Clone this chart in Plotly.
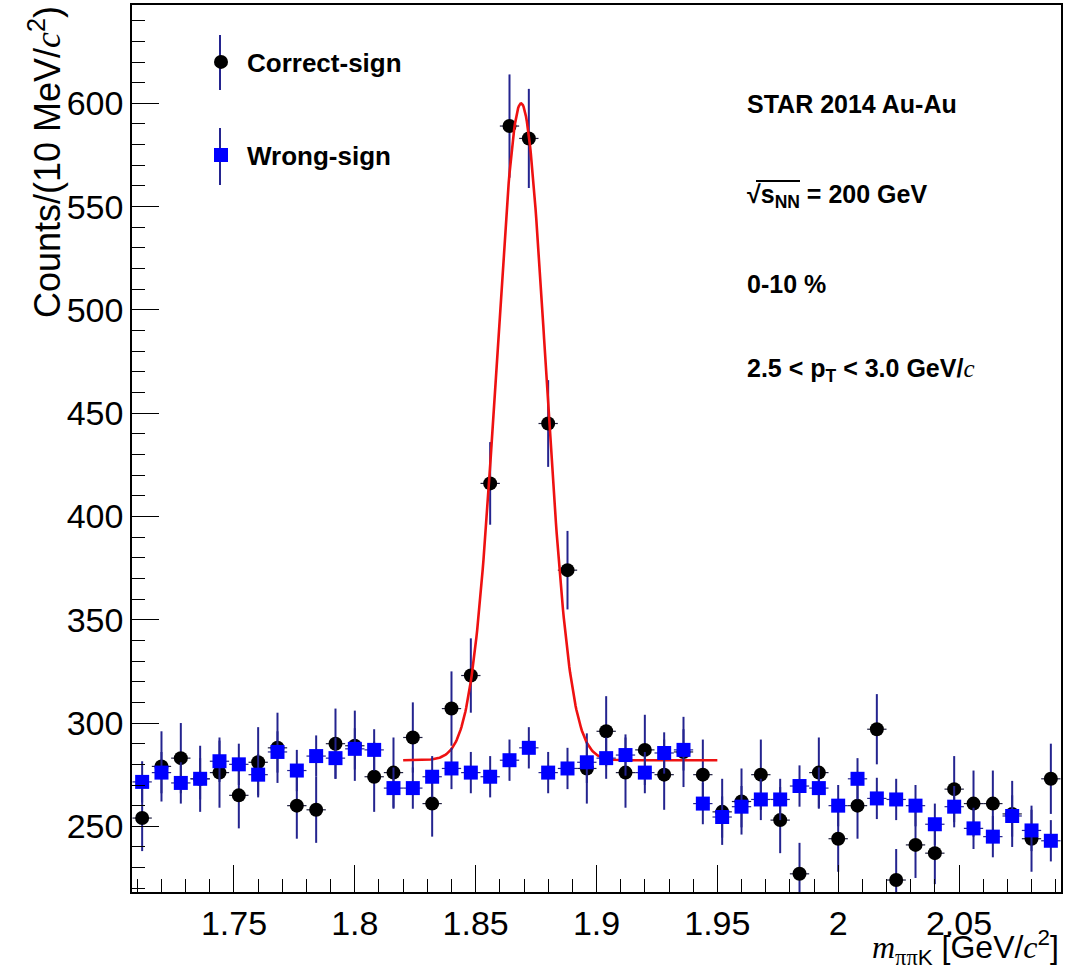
import numpy as np
import plotly.graph_objects as go

# Invariant-mass bin centres (GeV/c^2)
mass_bins = [1.712, 1.720, 1.728, 1.736, 1.744, 1.752, 1.760, 1.768, 1.776, 1.784,
             1.792, 1.800, 1.808, 1.816, 1.824, 1.832, 1.840, 1.848, 1.856, 1.864,
             1.872, 1.880, 1.888, 1.896, 1.904, 1.912, 1.920, 1.928, 1.936, 1.944,
             1.952, 1.960, 1.968, 1.976, 1.984, 1.992, 2.000, 2.008, 2.016, 2.024,
             2.032, 2.040, 2.048, 2.056, 2.064, 2.072, 2.080, 2.088]

# Correct-sign pi-pi-K pairs
correct_sign = [254, 279, 283, 273, 276, 265, 281, 288, 260, 258,
                290, 289, 274, 276, 293, 261, 307, 323, 416, 589,
                583, 445, 374, 278, 296, 276, 287, 275, 286, 275,
                257, 262, 275, 253, 227, 276, 244, 260, 297, 224,
                241, 237, 268, 261, 261, 256, 244, 273]
correct_sign_err = [16, 17, 17, 16, 17, 16, 17, 17, 16, 16,
                    17, 17, 17, 17, 17, 16, 18, 18, 20, 25,
                    24, 21, 19, 17, 17, 17, 17, 17, 17, 17,
                    16, 16, 17, 16, 15, 17, 16, 16, 17, 15,
                    16, 15, 16, 16, 16, 16, 16, 17]

# Wrong-sign combinatorial background
wrong_sign = [271.5, 276, 271, 273, 281.5, 280, 275, 286, 277, 284,
              283, 287.5, 287, 268.5, 268.5, 274, 278, 276, 274, 282,
              288, 276, 278, 281, 283, 284.5, 276, 285.5, 287, 261,
              254.5, 259.5, 263, 263, 269.5, 268.5, 260, 273, 263.5, 263,
              260, 251, 259.5, 249, 245, 255, 248, 243]
wrong_sign_err = [10] * 48

# Gaussian + constant fit to the correct-sign spectrum
fit_range = (1.82, 1.95)
fit_const = 282.0
fit_amp = 318.0
fit_mean = 1.8688
fit_sigma = 0.0101

x_range = [1.7078, 2.0922]
y_range = [218.2, 647.6]
x_tick_vals = [1.75, 1.80, 1.85, 1.90, 1.95, 2.00, 2.05]
x_tick_text = ["1.75", "1.8", "1.85", "1.9", "1.95", "2", "2.05"]
y_tick_vals = [250, 300, 350, 400, 450, 500, 550, 600]

ERR_COLOR = "#24248f"
SANS = "Liberation Sans, Arial, sans-serif"
SERIF = "Liberation Serif, Times New Roman, serif"

fit_x = np.linspace(fit_range[0], fit_range[1], 400)
fit_y = fit_const + fit_amp * np.exp(-0.5 * ((fit_x - fit_mean) / fit_sigma) ** 2)

fig = go.Figure()

fig.add_trace(go.Scatter(
    x=mass_bins, y=correct_sign, mode="markers", name="Correct-sign",
    marker=dict(symbol="circle", size=14, color="black"),
    error_y=dict(type="data", array=correct_sign_err, color=ERR_COLOR, thickness=2, width=0),
    error_x=dict(type="constant", value=0.004, color="#202040", thickness=1.2, width=0),
    legend="legend",
))

fig.add_trace(go.Scatter(
    x=fit_x, y=fit_y, mode="lines", showlegend=False,
    line=dict(color="#ee1111", width=2.6),
))

fig.add_trace(go.Scatter(
    x=mass_bins, y=wrong_sign, mode="markers", name="Wrong-sign",
    marker=dict(symbol="square", size=14, color="#0000ff"),
    error_y=dict(type="data", array=wrong_sign_err, color=ERR_COLOR, thickness=2, width=0),
    error_x=dict(type="constant", value=0.004, color=ERR_COLOR, thickness=1.2, width=0),
    legend="legend2",
))

L, R, T, B = 132, 23, 5, 80
W, H = 1084, 972
pw, ph = W - L - R, H - T - B


def px(xpix):
    return (xpix - L) / pw


def py(ypix):
    return (H - B - ypix) / ph


legend_font = dict(family=SANS, size=26, color="black", weight="bold")
fig.update_layout(
    legend=dict(x=px(195), y=py(62), xanchor="left", yanchor="middle",
                bgcolor="rgba(0,0,0,0)", font=legend_font, itemwidth=42),
    legend2=dict(x=px(195), y=py(155), xanchor="left", yanchor="middle",
                 bgcolor="rgba(0,0,0,0)", font=legend_font, itemwidth=42),
)

# vertical error-bar strokes behind the legend symbols
for y0, y1 in [(35, 90), (128, 185)]:
    fig.add_shape(type="line", xref="paper", yref="paper",
                  x0=px(220), x1=px(220), y0=py(y0), y1=py(y1),
                  line=dict(color=ERR_COLOR, width=2))

info_font = dict(family=SANS, size=25, color="black")
serif_c = f"<span style='font-family:{SERIF};font-weight:normal'><i>c</i></span>"
info_lines = [
    ("<b>STAR 2014 Au-Au</b>", 104),
    ("<b>√s<sub>NN</sub> = 200 GeV</b>", 196),
    ("<b>0-10 %</b>", 284),
    (f"<b>2.5 &lt; p<sub>T</sub> &lt; 3.0 GeV/</b>{serif_c}", 370),
]
for text, ypix in info_lines:
    fig.add_annotation(text=text, xref="paper", yref="paper", x=px(745), y=py(ypix),
                       xanchor="left", yanchor="middle", showarrow=False, font=info_font)

# overline of the square root
fig.add_shape(type="line", xref="paper", yref="paper",
              x0=px(756), x1=px(800), y0=py(181), y1=py(181),
              line=dict(color="black", width=2))

# axis titles
fig.add_annotation(
    text=f"Counts/(10 MeV/{serif_c}<sup>2</sup>)",
    xref="paper", yref="paper", x=px(45), y=py(162), textangle=-90,
    xanchor="center", yanchor="middle", showarrow=False,
    font=dict(family=SANS, size=36, color="black"),
)
fig.add_annotation(
    text=(f"<span style='font-family:{SERIF}'><i>m</i></span>"
          f"<sub><span style='font-family:{SERIF}'>ππ</span>K</sub>"
          f" [GeV/{serif_c}<sup>2</sup>]"),
    xref="paper", yref="paper", x=1.0, y=py(948),
    xanchor="right", yanchor="middle", showarrow=False,
    font=dict(family=SANS, size=32, color="black"),
)

axis_common = dict(
    showline=True, linecolor="black", linewidth=1.5, mirror=True,
    ticks="inside", ticklen=27, tickwidth=1.3, tickcolor="black",
    showgrid=False, zeroline=False, automargin=False,
    tickfont=dict(family=SANS, size=34, color="black"),
)
fig.update_xaxes(range=x_range, tickmode="array", tickvals=x_tick_vals,
                 ticktext=x_tick_text, tickangle=0,
                 minor=dict(dtick=0.01, tick0=1.75, ticks="inside", ticklen=13,
                            tickwidth=1.3, tickcolor="black", showgrid=False),
                 **axis_common)
fig.update_yaxes(range=y_range, tickmode="array", tickvals=y_tick_vals,
                 minor=dict(dtick=10, tick0=0, ticks="inside", ticklen=13,
                            tickwidth=1.3, tickcolor="black", showgrid=False),
                 **axis_common)

fig.update_layout(
    width=W, height=H,
    margin=dict(l=L, r=R, t=T, b=B, pad=0),
    paper_bgcolor="white", plot_bgcolor="white",
)

fig.write_html("out.html")
